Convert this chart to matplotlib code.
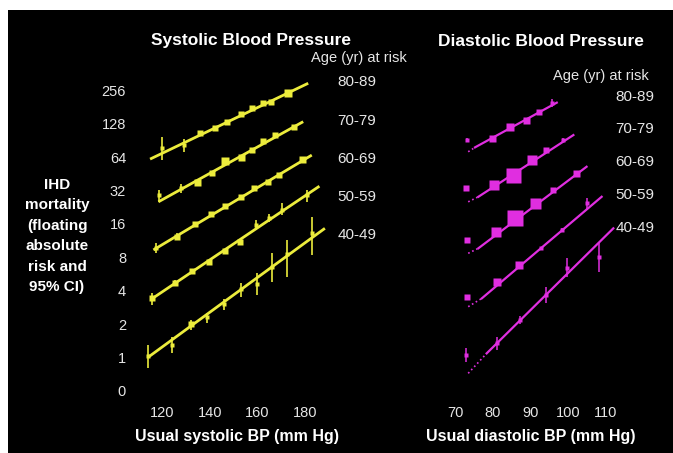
import matplotlib
matplotlib.use("Agg")
import matplotlib.pyplot as plt
from matplotlib.patches import Rectangle

W, H = 673, 453

ages = ['80-89', '70-79', '60-69', '50-59', '40-49']

# systolic panel: usual SBP (mm Hg), floating absolute risk and 95% CI, per age band
sys_x = [
    [119.9, 129.2, 135.9, 142.2, 147.1, 153.1, 157.9, 162.2, 165.7, 173.0],
    [118.9, 127.8, 134.5, 140.8, 146.4, 153.0, 157.9, 162.5, 167.4, 175.3],
    [117.4, 126.4, 133.8, 140.4, 146.4, 153.0, 158.6, 164.3, 169.1, 178.6],
    [115.9, 125.5, 132.7, 139.7, 146.4, 152.7, 159.3, 164.9, 170.2, 180.7],
    [114.3, 124.3, 132.0, 139.0, 146.0, 153.1, 159.7, 166.0, 172.3, 183.1],
]
sys_risk = [
    [76.6, 82.1, 104.7, 116.2, 133.5, 155.4, 176.1, 195.3, 202.2, 240.5],
    [29.2, 33.6, 38.1, 46.2, 59.3, 64.4, 74.0, 89.9, 101.1, 120.3],
    [9.65, 12.3, 15.9, 19.7, 23.3, 28.1, 33.8, 38.3, 44.0, 61.0],
    [3.41, 4.72, 6.02, 7.31, 9.19, 11.1, 15.7, 18.0, 21.4, 29.2],
    [1.03, 1.29, 1.99, 2.30, 3.01, 4.11, 4.59, 6.50, 8.51, 13.2],
]
sys_lo = [
    [60.1, 71.5, 100.0, 111.0, 128.0, 149.0, 169.0, 187.0, 194.0, 231.0],
    [25.3, 30.5, 36.5, 44.3, 56.9, 61.8, 71.0, 86.3, 97.1, 115.5],
    [8.7, 11.5, 15.2, 18.9, 22.4, 27.0, 32.4, 36.8, 42.2, 58.0],
    [3.0, 4.4, 5.7, 7.0, 8.8, 10.6, 14.1, 16.6, 19.3, 25.3],
    [0.80, 1.09, 1.77, 2.03, 2.68, 3.53, 3.66, 4.82, 5.35, 8.40],
]
sys_hi = [
    [97.7, 94.1, 109.5, 121.5, 139.0, 162.0, 183.0, 204.0, 210.5, 250.0],
    [32.2, 36.5, 39.7, 48.1, 61.7, 67.0, 77.0, 93.5, 105.1, 125.1],
    [10.8, 13.2, 16.6, 20.5, 24.2, 29.2, 35.2, 39.8, 45.8, 64.0],
    [3.8, 5.0, 6.3, 7.6, 9.6, 11.6, 17.4, 19.5, 24.6, 32.2],
    [1.29, 1.54, 2.17, 2.50, 3.34, 4.72, 5.74, 8.69, 11.47, 18.6],
]
# relative precision (box size) of each systolic estimate
sys_weight = [
    [5, 5, 6, 6, 6, 6, 6, 6, 6, 8],
    [5, 5, 7, 6, 8, 7, 6, 6, 6, 6],
    [5, 6, 6, 6, 6, 6, 6, 6, 6, 7],
    [6, 6, 6, 6, 6, 6, 5, 5, 5, 5],
    [5, 5, 6, 5, 5, 5, 5, 5, 5, 5],
]
# fitted lines: start and end of each regression line
sys_fit_x = [[115.0, 181.3], [118.5, 179.2], [116.4, 182.8], [115.4, 186.0], [114.3, 188.3]]
sys_fit_y = [[61.4, 296.2], [25.3, 133.5], [9.32, 66.7], [3.34, 35.0], [1.01, 14.6]]

# diastolic panel: usual DBP (mm Hg), risk, 95% CI and relative precision (box size)
dia_x = [
    [73.1, 79.7, 84.6, 88.8, 92.3, 95.6],
    [72.9, 80.3, 85.5, 90.3, 94.1, 98.7],
    [73.1, 80.9, 85.9, 91.2, 96.1, 102.1],
    [73.1, 81.2, 87.0, 92.7, 98.3, 104.9],
    [72.9, 81.1, 87.2, 94.1, 99.8, 108.2],
]
dia_risk = [
    [91.1, 94.4, 120.3, 138.1, 164.3, 195.3],
    [33.6, 35.8, 44.0, 60.1, 74.0, 91.1],
    [11.5, 13.6, 18.0, 24.6, 32.2, 45.6],
    [3.53, 4.82, 6.82, 9.65, 14.1, 24.6],
    [1.05, 1.35, 2.17, 3.66, 6.36, 8.11],
]
dia_lo = [
    [87.5, 90.6, 115.5, 132.6, 157.7, 182.0],
    [32.3, 34.4, 42.2, 57.7, 71.0, 87.5],
    [11.0, 13.1, 17.3, 23.6, 30.9, 43.8],
    [3.39, 4.63, 6.55, 9.26, 13.5, 21.4],
    [0.91, 1.16, 2.0, 3.07, 5.35, 5.94],
]
dia_hi = [
    [94.7, 98.2, 125.1, 143.6, 170.9, 212.0],
    [34.9, 37.2, 45.8, 62.5, 77.0, 94.7],
    [12.0, 14.1, 18.7, 25.6, 33.5, 47.4],
    [3.67, 5.01, 7.09, 10.0, 14.7, 27.3],
    [1.21, 1.54, 2.35, 4.35, 7.84, 10.7],
]
dia_weight = [
    [5, 7, 8, 7, 6, 5],
    [6, 10, 15, 10, 6, 5],
    [6, 10, 16, 11, 6, 7],
    [6, 8, 8, 5, 5, 4],
    [4, 4, 4, 4, 4, 4],
]
# regression lines: dotted start, solid start, end
dia_fit_x = [[73.5, 75.3, 97.0], [73.5, 76.2, 101.4], [73.5, 76.2, 104.9],
             [73.5, 77.1, 108.9], [73.5, 78.4, 112.0]]
dia_fit_y = [[71.5, 78.3, 198.1], [25.3, 28.1, 101.1], [8.69, 9.65, 52.4],
             [2.87, 3.41, 28.1], [0.72, 1.09, 14.6]]

ytick_vals = [0.5, 1, 2, 4, 8, 16, 32, 64, 128, 256]
ytick_labels = ['0', '1', '2', '4', '8', '16', '32', '64', '128', '256']
sys_ticks = [120, 140, 160, 180]
dia_ticks = [70, 80, 90, 100, 110]

YEL = '#ecec3c'
MAG = '#e02ee0'
TXT = '#e6e6e6'
SANS = ['Liberation Sans', 'DejaVu Sans']
COND = ['DejaVu Sans Condensed', 'Liberation Sans']


def fx(px):
    return px / W


def fy(py):
    return 1 - py / H


fig = plt.figure(figsize=(W / 100, H / 100), dpi=100, facecolor='white')
fig.patches.append(Rectangle((fx(8), 0), 1, fy(10), transform=fig.transFigure,
                             facecolor='black', edgecolor='none', zorder=-5))

ax1 = fig.add_axes([fx(140), fy(400), fx(330) - fx(140), fy(75) - fy(400)])
ax2 = fig.add_axes([fx(440), fy(400), fx(630) - fx(440), fy(75) - fy(400)])
for ax in (ax1, ax2):
    ax.set_zorder(2)
    ax.set_facecolor('none')
    ax.set_yscale('log', base=2)
    ax.set_ylim(2 ** -1.272, 2 ** 8.458)
    for s in ax.spines.values():
        s.set_visible(False)
    ax.tick_params(length=0, colors=TXT, labelsize=10.5, pad=4)

ax1.set_xlim(110.78, 190.44)
ax1.set_xticks(sys_ticks)
ax1.set_xticklabels([str(t) for t in sys_ticks], family=SANS)
ax1.set_yticks(ytick_vals)
ax1.set_yticklabels(ytick_labels, family=SANS)
ax1.tick_params(axis='y', pad=10)
ax1.minorticks_off()

ax2.set_xlim(66.02, 116.42)
ax2.set_xticks(dia_ticks)
ax2.set_xticklabels([str(t) for t in dia_ticks], family=SANS)
ax2.set_yticks([])
ax2.minorticks_off()

# systolic
for i in range(5):
    ax1.plot(sys_fit_x[i], sys_fit_y[i], color=YEL, lw=2, solid_capstyle='butt', zorder=2)
    ax1.vlines(sys_x[i], sys_lo[i], sys_hi[i], color=YEL, lw=1.2, zorder=3)
    for x, y, w in zip(sys_x[i], sys_risk[i], sys_weight[i]):
        ax1.plot(x, y, 's', color=YEL, ms=w * 0.72, mec='none', zorder=4)

# diastolic
for i in range(5):
    ax2.plot(dia_fit_x[i][:2], dia_fit_y[i][:2], color=MAG, lw=1.2, ls=':', zorder=2)
    ax2.plot(dia_fit_x[i][1:], dia_fit_y[i][1:], color=MAG, lw=1.6, zorder=2)
    ax2.vlines(dia_x[i], dia_lo[i], dia_hi[i], color=MAG, lw=1.1, zorder=3)
    for x, y, w in zip(dia_x[i], dia_risk[i], dia_weight[i]):
        ax2.plot(x, y, 's', color=MAG, ms=w * 0.72, mec='none', zorder=4)

# titles and labels
fig.text(fx(251), fy(41), 'Systolic Blood Pressure', color='white', fontsize=12.5,
         fontweight='bold', family=COND, ha='center', va='center')
fig.text(fx(541), fy(41), 'Diastolic Blood Pressure', color='white', fontsize=12.5,
         fontweight='bold', family=COND, ha='center', va='center')
fig.text(fx(359), fy(58), 'Age (yr) at risk', color=TXT, fontsize=10.5,
         family=SANS, ha='center', va='center')
fig.text(fx(601), fy(76), 'Age (yr) at risk', color=TXT, fontsize=10.5,
         family=SANS, ha='center', va='center')

left_age_y = [82, 121, 159, 197, 235]
right_age_y = [97, 129, 162, 195, 228]
for lab, y1, y2 in zip(ages, left_age_y, right_age_y):
    fig.text(fx(357), fy(y1), lab, color=TXT, fontsize=11, family=SANS,
             ha='center', va='center', zorder=5)
    fig.text(fx(635), fy(y2), lab, color=TXT, fontsize=11, family=SANS,
             ha='center', va='center', zorder=5)

ylab_lines = ['IHD', 'mortality', '(floating', 'absolute', 'risk and', '95% CI)']
for j, line in enumerate(ylab_lines):
    fig.text(fx(57), fy(185 + j * 20.4), line, color='white', fontsize=11,
             fontweight='bold', family=SANS, ha='center', va='center')

fig.text(fx(237), fy(437), 'Usual systolic BP (mm Hg)', color='white', fontsize=11.5,
         fontweight='bold', family=SANS, ha='center', va='center')
fig.text(fx(531), fy(437), 'Usual diastolic BP (mm Hg)', color='white', fontsize=11.5,
         fontweight='bold', family=SANS, ha='center', va='center')

fig.savefig('out.png', dpi=100, facecolor=fig.get_facecolor())
